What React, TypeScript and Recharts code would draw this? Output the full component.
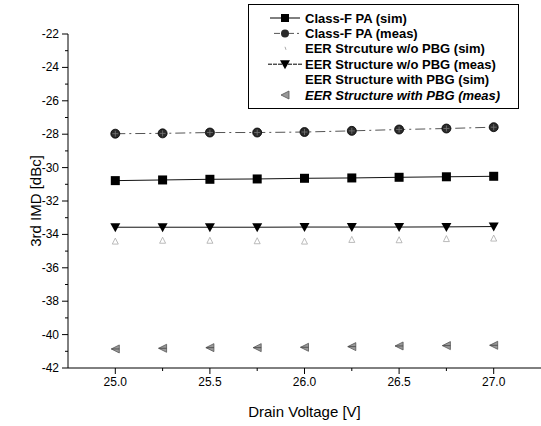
import React from "react";
import { LineChart, Line, XAxis, YAxis } from "recharts";

const voltage = [25.0, 25.25, 25.5, 25.75, 26.0, 26.25, 26.5, 26.75, 27.0];
const classFSim = [-30.78, -30.74, -30.7, -30.68, -30.64, -30.62, -30.58, -30.55, -30.52];
const classFMeas = [-27.97, -27.95, -27.9, -27.9, -27.87, -27.8, -27.72, -27.66, -27.58];
const eerNoPbgSim = [-34.4, -34.35, -34.35, -34.38, -34.4, -34.3, -34.32, -34.25, -34.22];
const eerNoPbgMeas = [-33.57, -33.57, -33.57, -33.57, -33.56, -33.56, -33.56, -33.55, -33.53];
const eerPbgMeas = [-40.86, -40.82, -40.78, -40.78, -40.76, -40.72, -40.68, -40.66, -40.64];

const xTicks = [25.0, 25.25, 25.5, 25.75, 26.0, 26.25, 26.5, 26.75, 27.0];
const yTicks = [-42, -41, -40, -39, -38, -37, -36, -35, -34, -33, -32, -31, -30, -29, -28, -27, -26, -25, -24, -23, -22];

const legendNames = [
  "Class-F PA (sim)",
  "Class-F PA (meas)",
  "EER Strcuture w/o PBG (sim)",
  "EER Structure w/o PBG (meas)",
  "EER Structure with PBG (sim)",
  "EER Structure with PBG (meas)",
];

const data = voltage.map((v, i) => ({
  v,
  cfs: classFSim[i],
  cfm: classFMeas[i],
  nps: eerNoPbgSim[i],
  npm: eerNoPbgMeas[i],
  pm: eerPbgMeas[i],
}));

const font = "'Liberation Sans', Arial, sans-serif";

const Square = ({ cx, cy }: any) => <rect x={cx - 4.5} y={cy - 4.5} width={9} height={9} fill="#000" />;
const Circle = ({ cx, cy }: any) => (
  <g>
    <circle cx={cx} cy={cy} r={4.5} fill="#2a2a2a" stroke="#000" strokeWidth={0.8} />
    <line x1={cx - 3} y1={cy} x2={cx + 3} y2={cy} stroke="#777" strokeWidth={0.8} />
    <line x1={cx} y1={cy - 3} x2={cx} y2={cy + 3} stroke="#777" strokeWidth={0.8} />
  </g>
);
const DownTri = ({ cx, cy }: any) => (
  <polygon points={`${cx - 5},${cy - 4} ${cx + 5},${cy - 4} ${cx},${cy + 5}`} fill="#000" />
);
const UpTri = ({ cx, cy }: any) => (
  <polygon points={`${cx - 3},${cy + 3} ${cx + 3},${cy + 3} ${cx},${cy - 3}`} fill="none" stroke="#aaa" strokeWidth={0.8} />
);
const LeftTri = ({ cx, cy }: any) => (
  <g>
    <polygon points={`${cx + 4},${cy - 4} ${cx + 4},${cy + 4} ${cx - 4},${cy}`} fill="#999" stroke="#555" strokeWidth={0.8} />
    <line x1={cx - 4} y1={cy} x2={cx + 4} y2={cy} stroke="#444" strokeWidth={0.8} />
  </g>
);

const YTick = ({ x, y, payload }: any) => {
  const axisX = x + 9;
  const major = payload.value % 2 === 0;
  return (
    <g>
      <line x1={axisX} x2={axisX - (major ? 6 : 3)} y1={y} y2={y} stroke="#000" />
      {major && (
        <text x={x} y={y} dy={4} textAnchor="end" fontSize={12} fontFamily={font} fill="#000">
          {payload.value}
        </text>
      )}
    </g>
  );
};

const XTick = ({ x, y, payload }: any) => {
  const axisY = y - 9;
  const major = Math.abs((payload.value * 2) % 1) < 1e-6;
  return (
    <g>
      <line x1={x} x2={x} y1={axisY} y2={axisY + (major ? 6 : 3)} stroke="#000" />
      {major && (
        <text x={x} y={y} dy={9} textAnchor="middle" fontSize={12} fontFamily={font} fill="#000">
          {payload.value.toFixed(1)}
        </text>
      )}
    </g>
  );
};

const LegendBox = () => {
  const icons = [
    <g>
      <line x1={0} x2={30} y1={0} y2={0} stroke="#000" />
      <rect x={11} y={-4} width={8} height={8} fill="#000" />
    </g>,
    <g>
      <line x1={4} x2={30} y1={0} y2={0} stroke="#555" strokeDasharray="6 3 2 3" />
      <circle cx={15} cy={0} r={4} fill="#2a2a2a" />
    </g>,
    <g>
      <line x1={15} x2={16} y1={-2} y2={1} stroke="#aaa" />
    </g>,
    <g>
      <line x1={-2} x2={32} y1={0} y2={0} stroke="#000" strokeDasharray="4 1" />
      <polygon points="10,-4 20,-4 15,5" fill="#000" />
    </g>,
    null,
    <g>
      <polygon points="19,-4 19,4 11,0" fill="#999" stroke="#555" strokeWidth={0.8} />
    </g>,
  ];
  return (
    <svg width={272} height={106} style={{ position: "absolute", left: 248, top: 4 }}>
      <rect x={0.5} y={0.5} width={270} height={104} fill="#fff" stroke="#000" />
      {legendNames.map((n, i) => (
        <g key={n} transform={`translate(0, ${14 + i * 15.4})`}>
          <g transform="translate(22, 0)">{icons[i]}</g>
          <text
            x={57}
            y={4.5}
            fontSize={13}
            fontWeight="bold"
            fontStyle={i === 5 ? "italic" : "normal"}
            fontFamily={font}
            fill="#000"
          >
            {n}
          </text>
        </g>
      ))}
    </svg>
  );
};

export default function App() {
  return (
    <div style={{ position: "absolute", left: 0, top: 0, width: 541, height: 426, background: "#fff" }}>
      <LineChart width={541} height={426} data={data} margin={{ top: 34, right: 0, bottom: 0, left: 0 }}>
        <XAxis
          dataKey="v"
          type="number"
          domain={[24.75, 27.25]}
          ticks={xTicks}
          interval={0}
          height={58}
          tickSize={6}
          tickMargin={3}
          tickLine={false}
          tick={<XTick />}
          axisLine={{ stroke: "#000" }}
          label={{ value: "Drain Voltage [V]", position: "insideBottom", offset: 9, fontSize: 15, fontFamily: font, fill: "#000" }}
        />
        <YAxis
          type="number"
          domain={[-42, -22]}
          ticks={yTicks}
          interval={0}
          width={68}
          tickSize={6}
          tickMargin={3}
          tickLine={false}
          tick={<YTick />}
          axisLine={{ stroke: "#000" }}
          label={{ value: "3rd IMD [dBc]", angle: -90, position: "insideLeft", offset: 36, fontSize: 15, fontFamily: font, fill: "#000", style: { textAnchor: "middle" } }}
        />
        <Line dataKey="cfm" stroke="#555" strokeWidth={1} strokeDasharray="10 4 2 4" dot={<Circle />} isAnimationActive={false} />
        <Line dataKey="cfs" stroke="#111" strokeWidth={1} dot={<Square />} isAnimationActive={false} />
        <Line dataKey="nps" stroke="none" dot={<UpTri />} isAnimationActive={false} />
        <Line dataKey="npm" stroke="#111" strokeWidth={1} dot={<DownTri />} isAnimationActive={false} />
        <Line dataKey="pm" stroke="none" dot={<LeftTri />} isAnimationActive={false} />
      </LineChart>
      <LegendBox />
    </div>
  );
}
